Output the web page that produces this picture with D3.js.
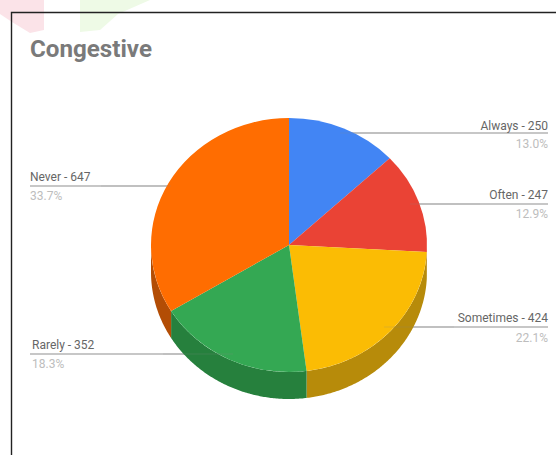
<!DOCTYPE html>
<html>
<head>
<meta charset="utf-8">
<script src="https://cdn.jsdelivr.net/npm/d3@7/dist/d3.min.js"></script>
<style>
html,body{margin:0;padding:0;background:#fff;overflow:hidden}
text{font-family:Roboto,"Liberation Sans",sans-serif}
</style>
</head>
<body>
<svg id="chart" width="556" height="455"></svg>
<script>
const categories = ["Always", "Often", "Sometimes", "Rarely", "Never"];
const counts = [250, 247, 424, 352, 647];
const shares = ["13.0%", "12.9%", "22.1%", "18.3%", "33.7%"];
const faceColors = ["#4285f4", "#ea4335", "#fbbc04", "#34a853", "#ff6d01"];
const wallColors = ["#2e5dab", "#a32f25", "#b78b0a", "#26803d", "#b34d05"];

const svg = d3.select("#chart");
const cx = 289, cy = 245, rx = 138, ry = 127, depth = 27;

// Pale stamps peeking out above the frame
svg.append("path").attr("d", "M0,0H44V30L30,33L12,22L0,14Z").attr("fill", "#fbe3e8");
svg.append("path").attr("d", "M80,0H150L118,14L100,30L80,32Z").attr("fill", "#eefae6");

// Frame
svg.append("path").attr("d", "M11.5,455V12.5H556").attr("fill", "none").attr("stroke", "#222").attr("stroke-width", 1.4);

// Title
svg.append("text").attr("x", 30).attr("y", 57).attr("font-size", 23).attr("font-weight", 700)
  .attr("fill", "#7a7a7a").attr("textLength", 122).attr("lengthAdjust", "spacingAndGlyphs").text("Congestive");

const slices = d3.pie().sort(null)(counts);
const x = d3.scaleLinear().domain([-1, 1]).range([cx - rx, cx + rx]);
const y = d3.scaleLinear().domain([-1, 1]).range([cy - ry, cy + ry]);
const px = a => x(Math.sin(a));
const py = a => y(-Math.cos(a));

// Leader lines run underneath the pie; a faint stretch shows over it further down
const labelSpots = [
  {side: "r", ly: 133, from: 340},
  {side: "r", ly: 204, from: 410},
  {side: "r", ly: 327, from: 384},
  {side: "l", ly: 354, from: 233},
  {side: "l", ly: 186, from: 171}
];
const leaderEnd = s => s.side === "r" ? 548 : 30;
svg.append("g").selectAll("line").data(labelSpots).join("line")
  .attr("x1", d => d.from).attr("x2", leaderEnd)
  .attr("y1", d => d.ly).attr("y2", d => d.ly)
  .attr("stroke", "#8f8f8f").attr("stroke-width", 1);

// Side wall: only the part of each slice's rim facing the viewer
const lo = Math.PI / 2, hi = 3 * Math.PI / 2;
const wall = svg.append("g");
slices.forEach((s, i) => {
  const a0 = Math.max(s.startAngle, lo), a1 = Math.min(s.endAngle, hi);
  if (a1 <= a0) return;
  const steps = d3.range(a0, a1, 0.01).concat(a1);
  const top = steps.map(a => [px(a), py(a)]);
  const bottom = steps.slice().reverse().map(a => [px(a), py(a) + depth]);
  wall.append("path").attr("d", d3.line()(top.concat(bottom)) + "Z").attr("fill", wallColors[i]);
});

// Top face of the pie, flattened into an ellipse
const arc = d3.arc().innerRadius(0).outerRadius(rx);
svg.append("g").attr("transform", `translate(${cx},${cy}) scale(1,${ry / rx})`)
  .selectAll("path").data(slices).join("path")
  .attr("d", arc).attr("fill", (d, i) => faceColors[i]);

// Faint stretch of each leader where it crosses the pie
svg.append("g").selectAll("line").data(labelSpots).join("line")
  .attr("x1", d => d.from).attr("x2", d => d.side === "r" ? d.from + 70 : d.from - 70)
  .attr("y1", d => d.ly).attr("y2", d => d.ly)
  .attr("stroke", "#8f8f8f").attr("stroke-width", 1).attr("stroke-opacity", 0.22);

// Labels
const labels = svg.append("g");
const labelX = [548, 548, 548, 32, 30];
const countY = [130, 199, 322, 349, 181];
const shareY = [148, 218, 342, 368, 200];
categories.forEach((name, i) => {
  const anchor = labelSpots[i].side === "r" ? "end" : "start";
  labels.append("text").attr("x", labelX[i]).attr("y", countY[i])
    .attr("text-anchor", anchor).attr("font-size", 12).attr("fill", "#666")
    .text(`${name} - ${counts[i]}`);
  labels.append("text").attr("x", labelX[i]).attr("y", shareY[i])
    .attr("text-anchor", anchor).attr("font-size", 12).attr("fill", "#bdbdbd")
    .text(shares[i]);
});
</script>
</body>
</html>
